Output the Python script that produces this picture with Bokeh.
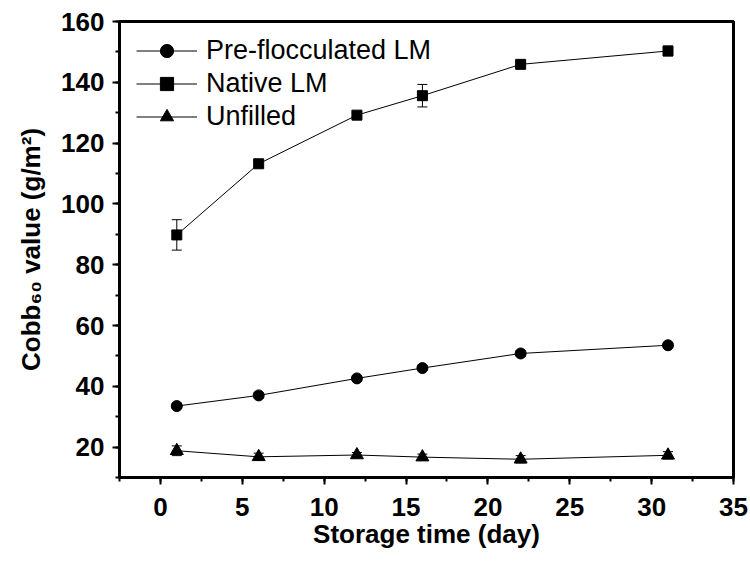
from bokeh.plotting import figure
from bokeh.models import (ColumnDataSource, Whisker, TeeHead, Legend, LegendItem,
                          Range1d, SingleIntervalTicker)
from bokeh.embed import file_html
from bokeh.resources import INLINE

# ---- data ----
days = [1, 6, 12, 16, 22, 31]
pre_flocculated = [33.5, 37.0, 42.6, 46.0, 50.8, 53.5]
pre_flocculated_err = [0.8, 0.8, 0.8, 0.8, 0.8, 0.8]
native_lm = [89.8, 113.2, 129.2, 135.6, 145.9, 150.3]
native_lm_err = [5.0, 1.0, 1.0, 3.7, 1.0, 1.6]
unfilled = [18.8, 16.8, 17.4, 16.7, 16.0, 17.3]
unfilled_err = [1.6, 1.2, 0.8, 1.0, 1.2, 1.2]

x_label = "Storage time (day)"
y_label = "Cobb\u2086\u2080 value (g/m\u00b2)"
FONT = "Liberation Sans"

p = figure(width=750, height=565, output_backend="svg", toolbar_location=None,
           x_range=Range1d(-2.5, 35), y_range=Range1d(10, 160),
           min_border_left=119, min_border_right=17, min_border_top=21, min_border_bottom=88)
p.xgrid.visible = False
p.ygrid.visible = False
p.background_fill_color = "white"
p.border_fill_color = "white"
p.outline_line_color = "black"
p.outline_line_width = 3

for ax in (p.xaxis[0], p.yaxis[0]):
    ax.axis_line_width = 3
    ax.axis_line_color = "black"
    ax.major_tick_line_width = 2
    ax.minor_tick_line_width = 2
    ax.major_tick_in = 0
    ax.minor_tick_in = 0
    ax.major_tick_out = 7
    ax.minor_tick_out = 4
    ax.major_label_text_font = FONT
    ax.major_label_text_font_style = "bold"
    ax.major_label_text_font_size = "26px"
    ax.major_label_text_color = "black"
    ax.axis_label_text_font = FONT
    ax.axis_label_text_font_style = "bold"
    ax.axis_label_text_font_size = "26px"
    ax.axis_label_text_color = "black"

p.xaxis.ticker = SingleIntervalTicker(interval=5, num_minor_ticks=2)
p.yaxis.ticker = SingleIntervalTicker(interval=20, num_minor_ticks=2)
p.xaxis.axis_label = x_label
p.yaxis.axis_label = y_label
p.xaxis.major_label_standoff = 13
p.yaxis.major_label_standoff = 8
p.xaxis.axis_label_standoff = 0
p.yaxis.axis_label_standoff = 12


def series(y, err, marker, size):
    src = ColumnDataSource(dict(x=days, y=y,
                                upper=[a + b for a, b in zip(y, err)],
                                lower=[a - b for a, b in zip(y, err)]))
    w = Whisker(base="x", upper="upper", lower="lower", source=src,
                line_color="black", line_width=1,
                upper_head=TeeHead(size=10, line_color="black", line_width=1),
                lower_head=TeeHead(size=10, line_color="black", line_width=1))
    p.add_layout(w)
    ln = p.line("x", "y", source=src, line_color="black", line_width=1)
    sc = p.scatter("x", "y", source=src, marker=marker, size=size,
                   fill_color="black", line_color="black")
    return [ln, sc]


r_pre = series(pre_flocculated, pre_flocculated_err, "circle", 11)
r_nat = series(native_lm, native_lm_err, "square", 10)
r_unf = series(unfilled, unfilled_err, "triangle", 13)

legend = Legend(items=[LegendItem(label="Pre-flocculated LM", renderers=r_pre),
                       LegendItem(label="Native LM", renderers=r_nat),
                       LegendItem(label="Unfilled", renderers=r_unf)],
                location=(17, 344), border_line_color=None, background_fill_alpha=0,
                padding=0, margin=0, spacing=0, glyph_width=61, glyph_height=33,
                label_height=33, label_standoff=9,
                label_text_font=FONT, label_text_font_size="27px",
                label_text_color="black")
p.add_layout(legend)

open("out.html", "w").write(file_html(p, INLINE))
